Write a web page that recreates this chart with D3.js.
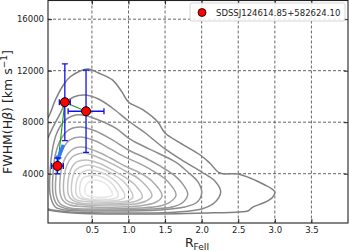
<!DOCTYPE html>
<html>
<head>
<meta charset="UTF-8">
<title>FWHM vs RFeII</title>
<script src="https://d3js.org/d3.v7.min.js"></script>
<style>
  body { margin: 0; background: #fff; }
  svg { display: block; }
  text { font-family: "DejaVu Sans", sans-serif; fill: #222; }
  .tick text { font-size: 8.5px; }
  .tick line { stroke: #222; }
</style>
</head>
<body>
<svg id="chart" width="349" height="251"></svg>
<script>
// tick labels
const xTicks = [0.5, 1.0, 1.5, 2.0, 2.5, 3.0, 3.5];
const yTicks = [4000, 8000, 12000, 16000];

// contour levels, outermost first  [R_FeII, FWHM]
const contour1 = [[-0.2,7700],[-0.095,8400],[0.0,9720],[0.11,10890],[0.2,11510],[0.34,11980],[0.45,12130],[0.59,11820],[0.78,11280],[0.91,10350],[1.0,9570],[1.2,8950],[1.4,8020],[1.5,7160],[1.71,6380],[1.98,5450],[2.11,4830],[2.25,4050],[2.5,3980],[2.66,3670],[2.84,3200],[3.0,2580],[2.96,2110],[2.84,1720],[2.7,1410],[2.63,1100],[2.52,1030],[2.07,950],[1.16,870],[0.25,950],[-0.095,1180],[-0.2,1340]];
const contour2 = [[-0.15,6150],[-0.095,6850],[-0.03,7630],[0.07,8710],[0.14,9490],[0.25,9960],[0.41,10110],[0.59,9800],[0.78,9100],[1.0,8090],[1.23,7160],[1.5,5920],[1.77,4910],[2.0,4130],[2.18,3430],[2.26,2580],[2.17,1720],[2.0,1260],[1.68,1030],[0.89,950],[0.2,1030],[-0.04,1180],[-0.15,1340]];
const contour3 = [[-0.07,2350],[-0.07,4290],[-0.04,5840],[0.01,7010],[0.11,8020],[0.23,8480],[0.37,8560],[0.59,8170],[0.82,7550],[1.0,6770],[1.17,6230],[1.4,5610],[1.64,4910],[1.81,4130],[1.95,3360],[2.0,2500],[1.94,1800],[1.77,1410],[1.43,1180],[0.61,1100],[0.14,1180],[0.0,1410]];
const contour4 = [[-0.03,2350],[-0.03,4130],[0.0,5450],[0.07,6620],[0.18,7390],[0.34,7630],[0.55,7320],[0.78,6620],[1.0,5840],[1.23,5220],[1.43,4600],[1.6,3980],[1.73,3280],[1.81,2420],[1.75,1800],[1.6,1410],[1.3,1260],[0.61,1180],[0.18,1260],[0.03,1570]];
const contour5 = [[0.01,2350],[0.01,3900],[0.04,5070],[0.11,6000],[0.2,6620],[0.34,6850],[0.55,6540],[0.75,5920],[0.95,5300],[1.16,4760],[1.36,4130],[1.53,3430],[1.65,2350],[1.57,1800],[1.43,1490],[1.16,1340],[0.61,1260],[0.2,1340],[0.07,1650]];
const contour6 = [[0.07,2350],[0.07,3900],[0.11,4910],[0.18,5610],[0.27,6000],[0.37,6070],[0.55,5760],[0.75,5220],[0.95,4600],[1.16,4050],[1.32,3430],[1.46,2270],[1.38,1800],[1.23,1570],[0.89,1410],[0.48,1410],[0.2,1570],[0.11,1880]];
const contour7 = [[0.12,2350],[0.12,3740],[0.16,4680],[0.23,5300],[0.31,5530],[0.4,5610],[0.57,5300],[0.78,4760],[0.98,4130],[1.16,3510],[1.32,2270],[1.24,1880],[1.09,1650],[0.75,1570],[0.41,1570],[0.23,1720],[0.15,1960]];
const contour8 = [[0.18,2350],[0.18,3670],[0.22,4440],[0.29,4910],[0.42,5070],[0.59,4830],[0.78,4290],[0.95,3740],[1.09,3120],[1.19,2190],[1.11,1880],[0.95,1720],[0.61,1650],[0.34,1720],[0.23,1960]];
const contour9 = [[0.23,2350],[0.23,3510],[0.27,4210],[0.34,4520],[0.45,4680],[0.61,4440],[0.78,3980],[0.94,3360],[1.06,2190],[0.98,1880],[0.82,1800],[0.55,1800],[0.34,1880],[0.27,2030]];
const contour10 = [[0.29,2350],[0.29,3360],[0.33,3900],[0.4,4210],[0.48,4290],[0.61,4130],[0.75,3740],[0.87,3120],[0.95,2190],[0.87,1960],[0.68,1880],[0.45,1960],[0.33,2110]];
const contour11 = [[0.34,2420],[0.34,3200],[0.38,3670],[0.45,3820],[0.52,3900],[0.64,3740],[0.75,3360],[0.82,2890],[0.86,2270],[0.79,2030],[0.61,2030],[0.45,2030],[0.37,2190]];
const contour12 = [[0.41,2500],[0.42,3120],[0.48,3430],[0.56,3510],[0.67,3280],[0.74,2890],[0.78,2350],[0.7,2190],[0.55,2190],[0.45,2270]];

// the quasar: three epochs
const rFe   = [0.03, 0.13, 0.42];
const rFeErr = [0.08, 0.075, 0.245];
const fwhm  = [4600, 9550, 8850];
const fwhmErr = [620, 2980, 3190];
const arrowFrom = [0.11, 6230];
const arrowTo = [0.02, 4900];
const legendLabel = "SDSSJ124614.85+582624.10";

const svg = d3.select("#chart");
const mLeft = 48, mRight = 348, mTop = 0.5, mBottom = 223;

const x = d3.scaleLinear().domain([-0.1, 4.0]).range([mLeft, mRight]);
const y = d3.scaleLinear().domain([170, 17450]).range([mBottom, mTop]);

svg.append("clipPath").attr("id", "clip")
  .append("rect").attr("x", mLeft).attr("y", mTop)
  .attr("width", mRight - mLeft).attr("height", mBottom - mTop);

// grid
const grid = svg.append("g").attr("stroke", "#555").attr("stroke-width", 0.9)
  .attr("stroke-dasharray", "3,2");
xTicks.forEach(v => grid.append("line").attr("x1", x(v)).attr("x2", x(v)).attr("y1", mTop).attr("y2", mBottom));
yTicks.forEach(v => grid.append("line").attr("y1", y(v)).attr("y2", y(v)).attr("x1", mLeft).attr("x2", mRight));

// contours
const plot = svg.append("g").attr("clip-path", "url(#clip)");
const contours = [contour1, contour2, contour3, contour4, contour5, contour6,
  contour7, contour8, contour9, contour10, contour11, contour12];
const shade = d3.scaleLinear().domain([0, 2, contours.length - 1])
  .range(["#808080", "#8c8c8c", "#e8e8e8"]);
const openLine = d3.line().x(d => x(d[0])).y(d => y(d[1])).curve(d3.curveCatmullRom);
const closedLine = d3.line().x(d => x(d[0])).y(d => y(d[1])).curve(d3.curveCatmullRomClosed);
contours.forEach((c, i) => {
  plot.append("path")
    .attr("d", i < 2 ? openLine(c) : closedLine(c))
    .attr("fill", "none")
    .attr("stroke", shade(i))
    .attr("stroke-width", 1.5);
});

// track between epochs
const pts = rFe.map((v, i) => [v, fwhm[i]]);
plot.append("path")
  .attr("d", d3.line().x(d => x(d[0])).y(d => y(d[1]))(pts))
  .attr("fill", "none").attr("stroke", "#1a9a1a").attr("stroke-width", 1.1);

// arrow
const ax1 = x(arrowFrom[0]), ay1 = y(arrowFrom[1]);
const ax2 = x(arrowTo[0]), ay2 = y(arrowTo[1]);
const ang = Math.atan2(ay2 - ay1, ax2 - ax1);
const hl = 6, hw = 3.5, bw = 1.8;
const bx = ax2 - hl * Math.cos(ang), by = ay2 - hl * Math.sin(ang);
const nx = -Math.sin(ang), ny = Math.cos(ang);
plot.append("path")
  .attr("d", `M${ax1 + nx * bw},${ay1 + ny * bw} L${bx + nx * bw},${by + ny * bw} L${bx + nx * hw},${by + ny * hw} L${ax2},${ay2} L${bx - nx * hw},${by - ny * hw} L${bx - nx * bw},${by - ny * bw} L${ax1 - nx * bw},${ay1 - ny * bw} Z`)
  .attr("fill", "#2f7cf6");

// error bars
const eb = plot.append("g").attr("stroke", "#1010ee").attr("stroke-width", 1.3);
pts.forEach((p, i) => {
  const cx = x(p[0]), cy = y(p[1]);
  const y1 = y(p[1] - fwhmErr[i]), y2 = y(p[1] + fwhmErr[i]);
  const x1 = x(p[0] - rFeErr[i]), x2 = x(p[0] + rFeErr[i]);
  eb.append("line").attr("x1", cx).attr("x2", cx).attr("y1", y1).attr("y2", y2);
  eb.append("line").attr("x1", cx - 3).attr("x2", cx + 3).attr("y1", y1).attr("y2", y1);
  eb.append("line").attr("x1", cx - 3).attr("x2", cx + 3).attr("y1", y2).attr("y2", y2);
  eb.append("line").attr("x1", x1).attr("x2", x2).attr("y1", cy).attr("y2", cy);
  eb.append("line").attr("x1", x1).attr("x2", x1).attr("y1", cy - 3).attr("y2", cy + 3);
  eb.append("line").attr("x1", x2).attr("x2", x2).attr("y1", cy - 3).attr("y2", cy + 3);
});

plot.selectAll("circle.pt").data(pts).join("circle")
  .attr("class", "pt")
  .attr("cx", d => x(d[0])).attr("cy", d => y(d[1])).attr("r", 4.5)
  .attr("fill", "#ff0000").attr("stroke", "#000").attr("stroke-width", 1);

// axes, ticks pointing in
function ticksOn(axisFn, pos, scale, major, minor, labels) {
  const g = svg.append("g").attr("transform", pos);
  g.call(axisFn(scale).tickValues(minor).tickSize(-2).tickFormat(""));
  g.call(axisFn(scale).tickValues(major).tickSize(-4).tickPadding(4)
    .tickFormat(labels ? (d => scale === x ? d3.format(".1f")(d) : d) : ""));
  g.selectAll(".domain").remove();
  return g;
}
const xMinor = x.ticks(40).filter(v => !xTicks.includes(v));
const yMinor = y.ticks(17).filter(v => !yTicks.includes(v));
ticksOn(d3.axisBottom, `translate(0,${mBottom})`, x, xTicks, xMinor, true);
ticksOn(d3.axisTop, `translate(0,${mTop})`, x, xTicks, xMinor, false);
ticksOn(d3.axisLeft, `translate(${mLeft},0)`, y, yTicks, yMinor, true);
ticksOn(d3.axisRight, `translate(${mRight},0)`, y, yTicks, yMinor, false);

svg.append("rect").attr("x", mLeft).attr("y", mTop)
  .attr("width", mRight - mLeft).attr("height", mBottom - mTop)
  .attr("fill", "none").attr("stroke", "#222").attr("stroke-width", 1.1);

// axis titles
const yl = svg.append("text")
  .attr("transform", "translate(12,112) rotate(-90)")
  .attr("text-anchor", "middle").style("font-size", "12.5px");
yl.append("tspan").text("FWHM(H");
yl.append("tspan").style("font-style", "italic").text("β");
yl.append("tspan").text(") [km s");
yl.append("tspan").attr("dy", -5).style("font-size", "9px").text("−1");
yl.append("tspan").attr("dy", 5).text("]");

const xl = svg.append("text")
  .attr("x", 197).attr("y", 247)
  .attr("text-anchor", "middle").style("font-size", "12.5px");
xl.append("tspan").text("R");
xl.append("tspan").attr("dy", 3).style("font-size", "9px").text("FeII");

// legend
const lg = svg.append("g");
lg.append("rect").attr("x", 190).attr("y", 3).attr("width", 155).attr("height", 18)
  .attr("rx", 2).attr("fill", "#fff").attr("fill-opacity", 0.85)
  .attr("stroke", "#ccc").attr("stroke-width", 0.8);
lg.append("circle").attr("cx", 202).attr("cy", 12.5).attr("r", 4)
  .attr("fill", "#ff0000").attr("stroke", "#000").attr("stroke-width", 0.8);
lg.append("text").attr("x", 216).attr("y", 15.5).style("font-size", "8.5px").text(legendLabel);
</script>
</body>
</html>
